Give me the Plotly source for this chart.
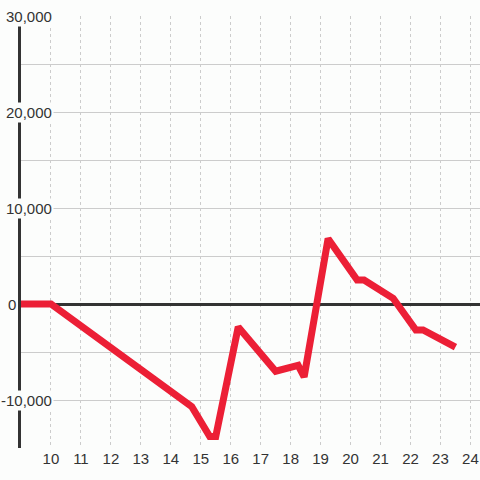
import plotly.graph_objects as go

# Data
hours = [9, 10, 14.7, 15.3, 15.5, 16.25, 17.5, 18.25, 18.45, 19.25, 20.22, 20.45, 21.42, 22.18, 22.42, 23.5]
values = [0, 0, -10700, -13800, -13800, -2400, -7000, -6400, -7600, 6800, 2500, 2500, 600, -2700, -2700, -4500]

x_ticks = list(range(10, 25))
y_grid = [-15000, -10000, -5000, 0, 5000, 10000, 15000, 20000, 25000, 30000]
y_label_vals = [-10000, 0, 10000, 20000, 30000]
y_label_text = ["-10,000", "0", "10,000", "20,000", "30,000"]

BG = "#fcfdfc"
TXT = "#333333"
FONT = "Liberation Sans, Arial, sans-serif"

fig = go.Figure()
fig.add_trace(go.Scatter(
    x=hours, y=values, mode="lines",
    line=dict(color="#ec1f36", width=7),
    hoverinfo="skip", showlegend=False,
))

annotations = []
for v, t in zip(y_label_vals, y_label_text):
    if v == 0:
        annotations.append(dict(
            xref="paper", yref="y", x=0, y=v, text=t, showarrow=False,
            xanchor="right", yanchor="middle", xshift=-3,
            font=dict(family=FONT, size=15, color=TXT),
        ))
    else:
        annotations.append(dict(
            xref="paper", yref="y", x=0, y=v, text=t, showarrow=False,
            xanchor="right", yanchor="middle", xshift=33,
            bgcolor=BG, borderpad=1,
            font=dict(family=FONT, size=15, color=TXT),
        ))

fig.update_layout(
    width=480, height=480,
    margin=dict(l=21, r=0, t=16, b=32),
    paper_bgcolor=BG, plot_bgcolor=BG,
    font=dict(family=FONT, size=15, color=TXT),
    xaxis=dict(
        range=[9, 24.32], tickvals=x_ticks, ticktext=[str(v) for v in x_ticks],
        showgrid=True, gridcolor="#cccccc", gridwidth=1, griddash="3px,3px",
        zeroline=False, showline=False, ticks="",
        tickfont=dict(family=FONT, size=15, color=TXT),
        fixedrange=True,
    ),
    yaxis=dict(
        range=[-15000, 30000], tickvals=y_grid, showticklabels=False,
        showgrid=True, gridcolor="#cccccc", gridwidth=1,
        zeroline=True, zerolinecolor="#333333", zerolinewidth=3,
        showline=True, linecolor="#333333", linewidth=3, ticks="",
        fixedrange=True,
    ),
    annotations=annotations,
)

fig.write_html(
    "out.html",
    config={"displayModeBar": False},
    post_script="document.body.style.margin='0';document.body.style.background='#fcfdfc';",
)
